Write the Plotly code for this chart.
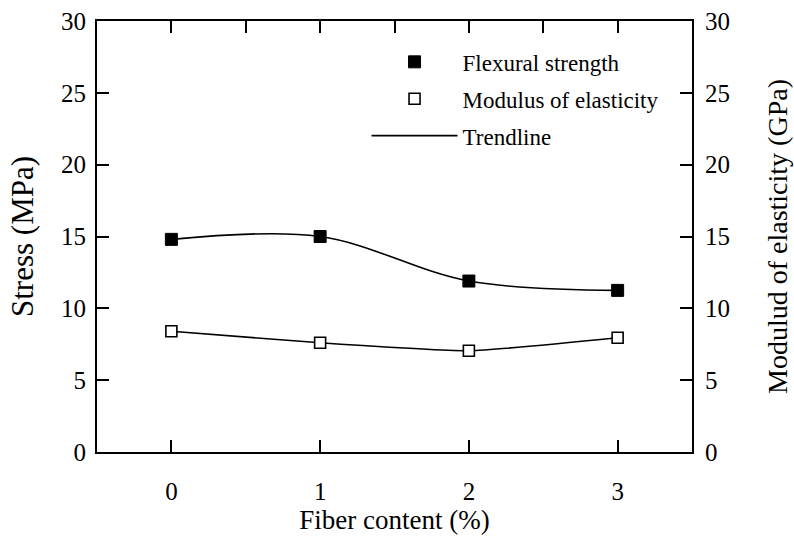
import plotly.graph_objects as go

# Fibre dosage (%) and measured properties
fiber_content = [0, 1, 2, 3]
flexural_strength = [14.8, 15.0, 11.9, 11.25]   # MPa
modulus_elasticity = [8.4, 7.6, 7.05, 7.95]     # GPa

x_ticks = [0, 1, 2, 3]
x_top_ticks = [0, 0.5, 1, 1.5, 2, 2.5, 3]
y_ticks = [0, 5, 10, 15, 20, 25, 30]

FONT = "Liberation Serif, Times New Roman, serif"
BLACK = "#000000"

fig = go.Figure()

# smooth trend curves through each series
fig.add_trace(go.Scatter(
    x=fiber_content, y=flexural_strength, mode="lines",
    line=dict(color=BLACK, width=1.6, shape="spline", smoothing=1.0),
    name="Trendline", legendgroup="c", legendrank=3, showlegend=True,
))
fig.add_trace(go.Scatter(
    x=fiber_content, y=modulus_elasticity, mode="lines", yaxis="y2",
    line=dict(color=BLACK, width=1.6, shape="spline", smoothing=0.5),
    name="Trendline", legendgroup="c", showlegend=False,
))

# measured points
fig.add_trace(go.Scatter(
    x=fiber_content, y=flexural_strength, mode="markers",
    marker=dict(symbol="square", size=12, color=BLACK,
                line=dict(color=BLACK, width=1)),
    name="Flexural strength", legendgroup="a", legendrank=1,
))
fig.add_trace(go.Scatter(
    x=fiber_content, y=modulus_elasticity, mode="markers", yaxis="y2",
    marker=dict(symbol="square", size=11, color="white",
                line=dict(color=BLACK, width=1.6)),
    name="Modulus of elasticity", legendgroup="b", legendrank=2,
))

axis_common = dict(
    showline=True, linecolor=BLACK, linewidth=2,
    ticks="inside", ticklen=12, tickwidth=1.5, tickcolor=BLACK,
    showgrid=False, zeroline=False, automargin=False,
    tickfont=dict(family=FONT, size=25, color=BLACK),
)

fig.update_layout(
    width=794, height=536,
    margin=dict(l=97, r=102, t=21, b=84),
    paper_bgcolor="white", plot_bgcolor="white",
    font=dict(family=FONT, color=BLACK),
    xaxis=dict(
        range=[-0.5, 3.5], tickvals=x_ticks, ticklabelstandoff=16, **axis_common,
        title=dict(text="Fiber content (%)",
                   font=dict(family=FONT, size=27, color=BLACK), standoff=6),
    ),
    xaxis2=dict(
        range=[-0.5, 3.5], overlaying="x", side="top", tickvals=x_top_ticks,
        showticklabels=False, **{k: v for k, v in axis_common.items() if k != "tickfont"},
    ),
    yaxis=dict(
        range=[0, 30], tickvals=y_ticks, ticklabelstandoff=4, **axis_common,
        title=dict(text="Stress (MPa)",
                   font=dict(family=FONT, size=31, color=BLACK), standoff=18),
    ),
    yaxis2=dict(
        range=[0, 30], tickvals=y_ticks, overlaying="y", side="right",
        ticklabelstandoff=6, **axis_common,
        title=dict(text="Modulud of elasticity (GPa)",
                   font=dict(family=FONT, size=28, color=BLACK), standoff=38),
    ),
    legend=dict(
        x=0.453, y=0.955, xanchor="left", yanchor="top",
        bgcolor="rgba(0,0,0,0)", borderwidth=0,
        font=dict(family=FONT, size=23, color=BLACK),
        itemwidth=86, traceorder="grouped", tracegroupgap=4,
    ),
    showlegend=True,
)

# top axis carries only tick marks
fig.add_trace(go.Scatter(x=[None], y=[None], xaxis="x2", showlegend=False,
                         hoverinfo="skip"))

fig.write_html("out.html")
